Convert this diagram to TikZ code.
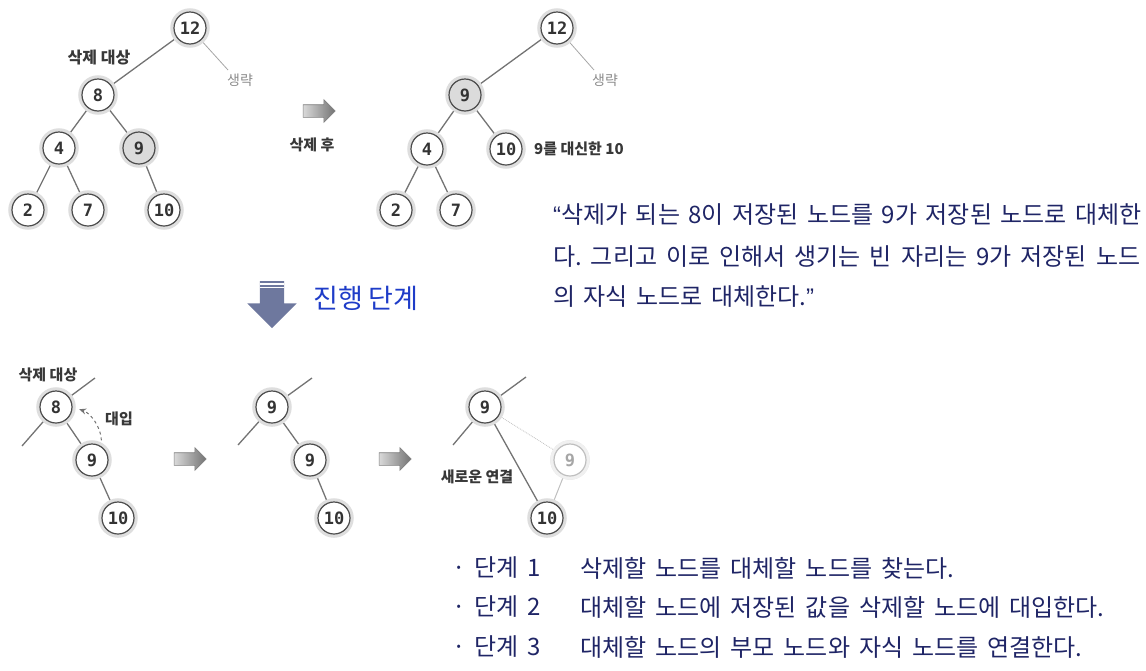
\documentclass[tikz,border=0pt]{standalone}
\usepackage{fontspec}
\setmainfont{Noto Sans CJK KR}
\newfontfamily\digitfont{DejaVu Sans Mono}
\newfontfamily\latinfont{Liberation Sans}
\usepackage{xcolor}
\usepackage{tikz}
\usetikzlibrary{arrows.meta,shapes.arrows,backgrounds}
\definecolor{navytext}{HTML}{1F2566}
\definecolor{stepblue}{HTML}{1E3CC8}
\definecolor{slatearrow}{HTML}{6E789E}
\frenchspacing

\begin{document}
\begin{tikzpicture}[x=1pt,y=-1pt,
bnode/.style={circle,draw=black!70,line width=1.2pt,fill=white,minimum size=32pt,inner sep=0pt,
  font=\digitfont\bfseries\fontsize{17}{17}\selectfont,text=black!80,
  preaction={draw=black!13,line width=7.5pt}},
hinode/.style={bnode,fill=black!14},
ghostnode/.style={bnode,draw=black!25,text=black!35,preaction={draw=black!6,line width=7.5pt}},
link/.style={draw=black!55,line width=1.3pt},
thinlink/.style={draw=black!35,line width=0.8pt},
tag/.style={font=\bfseries\fontsize{15}{15}\selectfont,text=black!78,inner sep=1pt},
omit/.style={font=\fontsize{14}{14}\selectfont,text=black!45,inner sep=1pt},
rarrow/.style={single arrow,draw=black!50,line width=0.6pt,left color=black!15,right color=black!55,
  minimum height=32pt,minimum width=22pt,inner sep=6pt,single arrow head extend=5pt},
para/.style={anchor=west,inner sep=0pt,text=navytext,font={\fontsize{24}{24}\selectfont\spaceskip=8.5pt plus 12pt}},
steptxt/.style={anchor=west,inner sep=0pt,text=navytext,font={\fontsize{24}{24}\selectfont\spaceskip=9pt}}]
\useasboundingbox (0,0) rectangle (1146,670);

\node[bnode] (a12) at (190,28) {12};
\node[bnode] (a8) at (98,95) {8};
\node[bnode] (a4) at (59,148) {4};
\node[hinode] (a9) at (139,148) {9};
\node[bnode] (a2) at (28,210) {2};
\node[bnode] (a7) at (88,210) {7};
\node[bnode] (a10) at (164,210) {10};
\coordinate (a12r) at (228,70);
\node[tag,font=\bfseries\fontsize{16}{16}\selectfont] (atag) at (99,58) {삭제 대상};
\node[omit] (aomit) at (240,80) {생략};
\begin{scope}[on background layer]
\draw[link](a12.center)--(a8.center)(a8.center)--(a4.center)(a8.center)--(a9.center)
(a4.center)--(a2.center)(a4.center)--(a7.center)(a9.center)--(a10.center);
\draw[thinlink](a12.center)--(a12r);
\end{scope}

\node[rarrow] (go1) at (316,111) {};
\node[tag] (gotag) at (312,145) {삭제 후};

\node[bnode] (b12) at (557,28) {12};
\node[hinode] (b9) at (465,95) {9};
\node[bnode] (b4) at (427,149) {4};
\node[bnode] (b10) at (506,149) {10};
\node[bnode] (b2) at (396,210) {2};
\node[bnode] (b7) at (456,210) {7};
\coordinate (b12r) at (594,70);
\node[omit] (bomit) at (605,80) {생략};
\node[tag,anchor=west] (btag) at (533,149) {9를 대신한 10};
\begin{scope}[on background layer]
\draw[link](b12.center)--(b9.center)(b9.center)--(b4.center)(b9.center)--(b10.center)
(b4.center)--(b2.center)(b4.center)--(b7.center);
\draw[thinlink](b12.center)--(b12r);
\end{scope}

\node[para] (p1) at (553,215) {\makebox[588pt][s]{{\latinfont “}삭제가 되는 8이 저장된 노드를 9가 저장된 노드로 대체한}};
\node[para] (p2) at (553,257) {\makebox[587pt][s]{다. 그리고 이로 인해서 생기는 빈 자리는 9가 저장된 노드}};
\node[para] (p3) at (553,297) {의 자식 노드로 대체한다.{\latinfont ”}};

\node[single arrow,fill=slatearrow,rotate=-90,minimum height=47pt,minimum width=49pt,inner sep=12pt,
single arrow head extend=12.5pt] (down) at (272,298.5) {};
\draw[white,line width=1.3pt]([yshift=-3pt]down.before tail)--([yshift=-3pt]down.after tail)
([yshift=-6.4pt]down.before tail)--([yshift=-6.4pt]down.after tail);
\node[anchor=west,text=stepblue,font=\fontsize{27}{27}\selectfont,inner sep=0pt] (downtag) at (313,298) {진행 단계};

\node[bnode] (c8) at (56,407) {8};
\node[bnode] (c9) at (92,460) {9};
\node[bnode] (c10) at (118,518) {10};
\coordinate (c8up) at (95,378);
\coordinate (c8dn) at (22,446);
\node[tag] (ctag) at (48,375) {삭제 대상};
\node[tag] (cput) at (119,419) {대입};
\begin{scope}[on background layer]
\draw[link](c8up)--(c8.center)--(c8dn)(c8.center)--(c9.center)--(c10.center);
\end{scope}
\draw[black!55,line width=1pt,dashed,-{Stealth[length=7pt,width=6pt]},shorten <=6pt,shorten >=7pt](c9.55)to[bend right=35](c8.east);
\node[rarrow] (go2) at (187,459) {};

\node[bnode] (d9) at (272,407) {9};
\node[bnode] (d9b) at (310,460) {9};
\node[bnode] (d10) at (334,518) {10};
\coordinate (d9up) at (312,378);
\coordinate (d9dn) at (238,445);
\begin{scope}[on background layer]
\draw[link](d9up)--(d9.center)--(d9dn)(d9.center)--(d9b.center)--(d10.center);
\end{scope}
\node[rarrow] (go3) at (392,459) {};

\node[bnode] (e9) at (485,407) {9};
\node[ghostnode] (e9b) at (570,460) {9};
\node[bnode] (e10) at (547,518) {10};
\coordinate (e9up) at (526,377);
\coordinate (e9dn) at (453,445);
\node[tag] (etag) at (477,477) {새로운 연결};
\begin{scope}[on background layer]
\draw[link](e9up)--(e9.center)--(e9dn)(e9.center)--(e10.center);
\draw[black!25,line width=0.8pt,densely dotted](e9.center)--(e9b.center);
\draw[black!25,line width=1pt](e9b.center)--(e10.center);
\end{scope}

\node[steptxt] (s1a) at (452,568) {· 단계 1};
\node[steptxt] (s1b) at (580,568) {삭제할 노드를 대체할 노드를 찾는다.};
\node[steptxt] (s2a) at (452,607) {· 단계 2};
\node[steptxt] (s2b) at (580,607) {대체할 노드에 저장된 값을 삭제할 노드에 대입한다.};
\node[steptxt] (s3a) at (452,647) {· 단계 3};
\node[steptxt] (s3b) at (580,647) {대체할 노드의 부모 노드와 자식 노드를 연결한다.};
\end{tikzpicture}
\end{document}
